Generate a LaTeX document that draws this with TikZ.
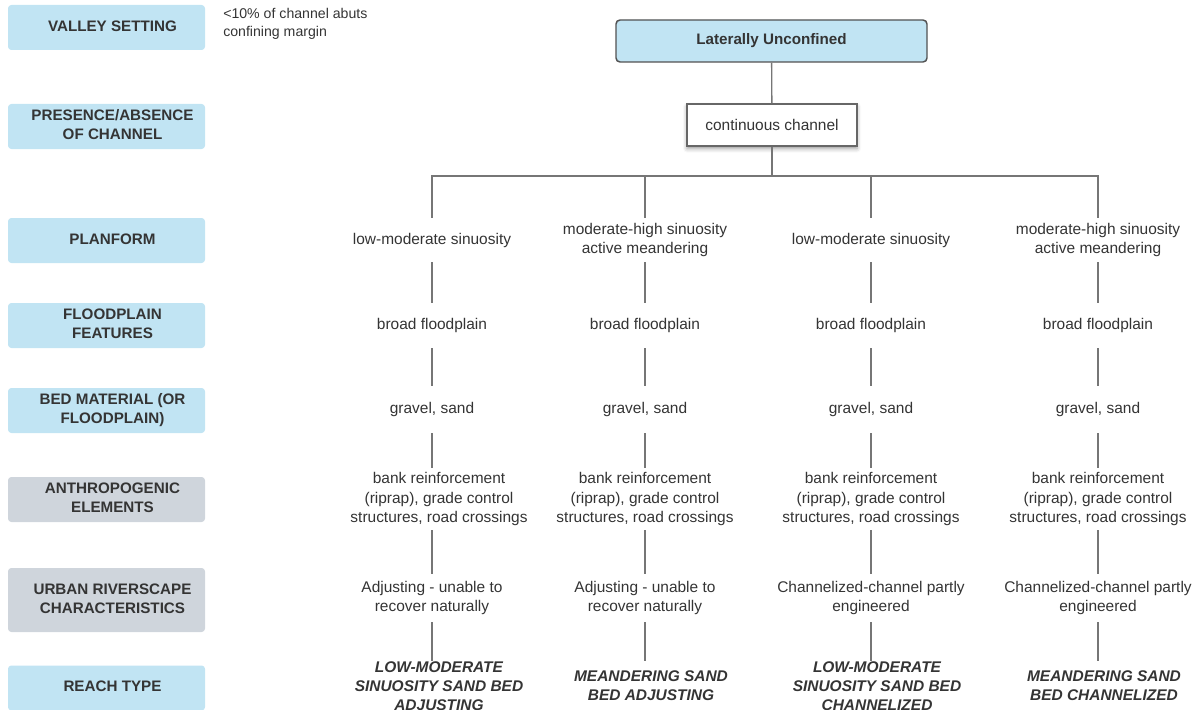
\documentclass[tikz,border=0pt]{standalone}
\usepackage{fontspec}
\setmainfont{Liberation Sans}
\usetikzlibrary{shadows.blur}
\definecolor{lblue}{RGB}{193,228,243}
\definecolor{lgrey}{RGB}{207,213,220}
\definecolor{ink}{RGB}{52,52,52}
\definecolor{wire}{RGB}{118,118,118}
\newcommand{\rowtxt}[1]{\hspace*{9pt}\begin{tabular}{@{}c@{}}#1\end{tabular}}
\tikzset{
  rowlabel/.style={fill=lblue, rounded corners=2.5pt, minimum width=147.75pt, minimum height=33.75pt, inner sep=0.75pt, text=ink, font=\fontsize{11.4}{14.3}\selectfont\bfseries},
  cell/.style={inner sep=0pt, align=center, text=ink, font=\fontsize{11.6}{14.3}\selectfont},
  reach/.style={cell, minimum height=37.5pt, font=\fontsize{11.6}{14.3}\selectfont\bfseries\itshape},
  branch/.style={draw=wire, line width=1pt},
}
\begin{document}
\begin{tikzpicture}[x=0.75pt,y=0.75pt,yscale=-1,xscale=1]
    \useasboundingbox (0,0) rectangle (1200,710);
    \node (lvalley) at (106.5,27.5) [rowlabel] {\rowtxt{VALLEY SETTING}};
    \node (lpres) at (106.5,126.5) [rowlabel] {\rowtxt{PRESENCE/ABSENCE\\OF CHANNEL}};
    \node (lplan) at (106.5,240.5) [rowlabel] {\rowtxt{PLANFORM}};
    \node (lflood) at (106.5,325.5) [rowlabel] {\rowtxt{FLOODPLAIN\\FEATURES}};
    \node (lbed) at (106.5,410.5) [rowlabel] {\rowtxt{BED MATERIAL (OR\\FLOODPLAIN)}};
    \node (lanthro) at (106.5,499.5) [rowlabel, fill=lgrey] {\rowtxt{ANTHROPOGENIC\\ELEMENTS}};
    \node (lurban) at (106.5,600) [rowlabel, fill=lgrey, minimum height=48pt] {\rowtxt{URBAN RIVERSCAPE\\CHARACTERISTICS}};
    \node (lreach) at (106.5,688) [rowlabel] {\rowtxt{REACH TYPE}};
    \node (note) at (223,8) [anchor=north west, inner sep=0pt, align=left, text=ink, font=\fontsize{10.6}{13.5}\selectfont] {<10\% of channel abuts\\confining margin};

    \node (unconf) at (771.5,41) [fill=lblue, draw=ink!85, line width=1.1pt, rounded corners=3pt, minimum width=233.25pt, minimum height=31.5pt, text=ink, font=\fontsize{11.4}{14.3}\selectfont\bfseries] {Laterally Unconfined};
    \node (cont) at (772,125) [fill=white, draw=ink!75, line width=1.1pt, minimum width=127.5pt, minimum height=31.5pt, text=ink, font=\fontsize{11.6}{14.3}\selectfont, blur shadow={shadow xshift=0pt, shadow yshift=-2pt, shadow blur radius=3pt}] {continuous channel};
    \coordinate (bar) at (772,176);

    \node (pl1) at (432,240) [cell, minimum height=33pt] {low-moderate sinuosity};
    \node (pl2) at (645,240) [cell, minimum height=33pt] {moderate-high sinuosity\\active meandering};
    \node (pl3) at (871,240) [cell, minimum height=33pt] {low-moderate sinuosity};
    \node (pl4) at (1098,240) [cell, minimum height=33pt] {moderate-high sinuosity\\active meandering};

    \node (fp1) at (432,325.5) [cell, minimum height=33.75pt] {broad floodplain};
    \node (fp2) at (645,325.5) [cell, minimum height=33.75pt] {broad floodplain};
    \node (fp3) at (871,325.5) [cell, minimum height=33.75pt] {broad floodplain};
    \node (fp4) at (1098,325.5) [cell, minimum height=33.75pt] {broad floodplain};

    \node (bd1) at (432,409.5) [cell, minimum height=35.25pt] {gravel, sand};
    \node (bd2) at (645,409.5) [cell, minimum height=35.25pt] {gravel, sand};
    \node (bd3) at (871,409.5) [cell, minimum height=35.25pt] {gravel, sand};
    \node (bd4) at (1098,409.5) [cell, minimum height=35.25pt] {gravel, sand};

    \node (an1) at (439,499) [cell, minimum height=46.5pt] {bank reinforcement\\(riprap), grade control\\structures, road crossings};
    \node (an2) at (645,499) [cell, minimum height=46.5pt] {bank reinforcement\\(riprap), grade control\\structures, road crossings};
    \node (an3) at (871,499) [cell, minimum height=46.5pt] {bank reinforcement\\(riprap), grade control\\structures, road crossings};
    \node (an4) at (1098,499) [cell, minimum height=46.5pt] {bank reinforcement\\(riprap), grade control\\structures, road crossings};

    \node (ur1) at (432,598) [cell, minimum height=36pt] {Adjusting - unable to\\recover naturally};
    \node (ur2) at (645,598) [cell, minimum height=36pt] {Adjusting - unable to\\recover naturally};
    \node (ur3) at (871,598) [cell, minimum height=36pt] {Channelized-channel partly\\engineered};
    \node (ur4) at (1098,598) [cell, minimum height=36pt] {Channelized-channel partly\\engineered};

    \node (rt1) at (439,686) [reach] {LOW-MODERATE\\SINUOSITY SAND BED\\ADJUSTING};
    \node (rt2) at (651,686) [reach] {MEANDERING SAND\\BED ADJUSTING};
    \node (rt3) at (877,686) [reach] {LOW-MODERATE\\SINUOSITY SAND BED\\CHANNELIZED};
    \node (rt4) at (1104,686) [reach] {MEANDERING SAND\\BED CHANNELIZED};

    \draw [branch] (unconf) -- (cont);
    \draw [branch] (cont) -- (bar);
    \draw [branch] (bar) -| (pl1.north);
    \draw [branch] (bar) -| (pl2.north);
    \draw [branch] (bar) -| (pl3.north);
    \draw [branch] (bar) -| (pl4.north);
    \draw [branch] (pl1) -- (fp1) -- (bd1) -- (bd1 |- an1.north);
    \draw [branch] (pl2) -- (fp2) -- (bd2) -- (an2) -- (ur2) -- (ur2 |- rt2.north);
    \draw [branch] (pl3) -- (fp3) -- (bd3) -- (an3) -- (ur3) -- (ur3 |- rt3.north);
    \draw [branch] (pl4) -- (fp4) -- (bd4) -- (an4) -- (ur4) -- (ur4 |- rt4.north);
    \draw [branch] (an1.south -| ur1) -- (ur1) -- (ur1 |- rt1.north);
\end{tikzpicture}
\end{document}
